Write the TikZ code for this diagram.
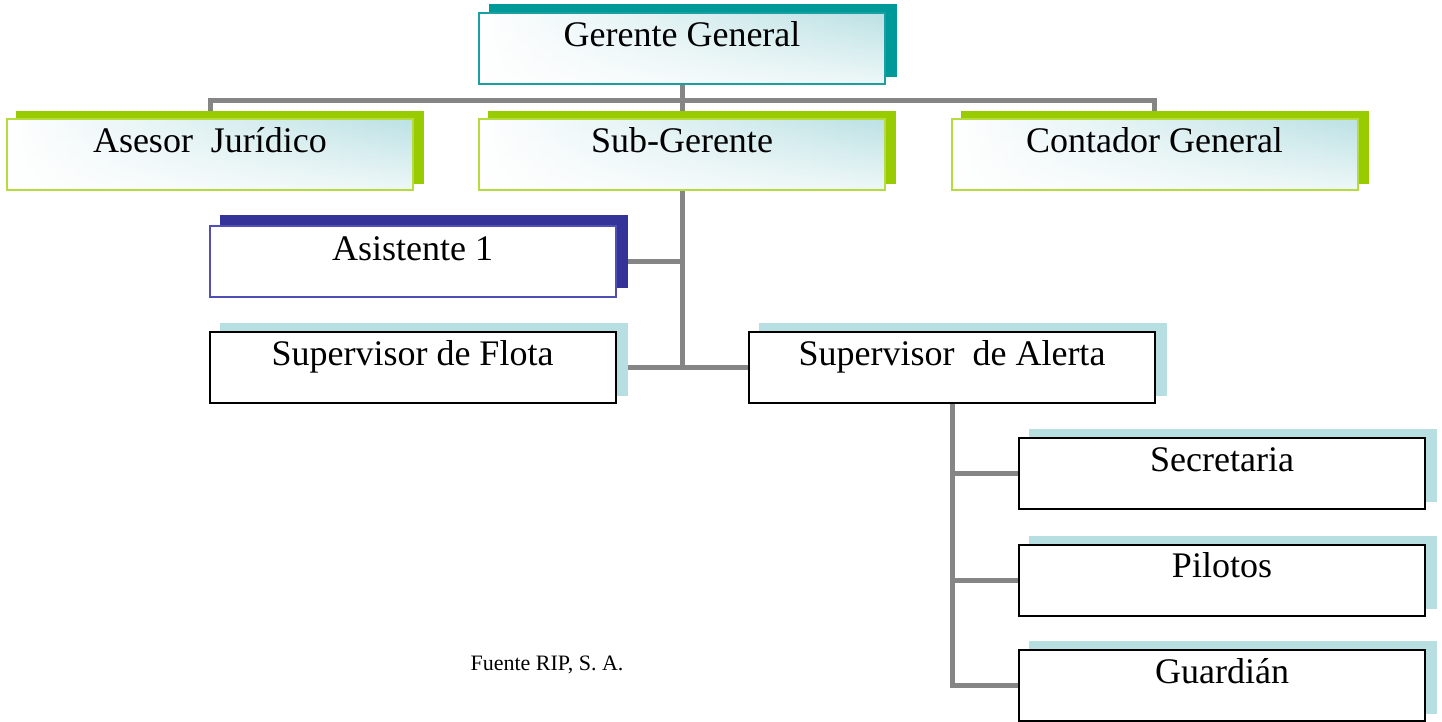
\documentclass[tikz,border=0pt]{standalone}
\usepackage{fontspec}
\setmainfont{Liberation Serif}
\usetikzlibrary{calc,fadings}
\definecolor{conn}{HTML}{858585}
\definecolor{tealS}{HTML}{009999}
\definecolor{greenS}{HTML}{99CC00}
\definecolor{blueS}{HTML}{333399}
\definecolor{lblueS}{HTML}{B7DFE2}
\definecolor{tealB}{HTML}{1AA0A0}
\definecolor{greenB}{HTML}{B4DC3C}
\definecolor{blueB}{HTML}{5050B4}
\definecolor{gradC}{HTML}{BBE1E4}
\pgfdeclarelayer{lines}
\pgfdeclarelayer{shadow}
\pgfsetlayers{lines,shadow,main}
\tikzset{
  box/.style={rectangle, minimum width=406pt, minimum height=71pt, inner sep=0pt, line width=2pt},
  gradbox/.style={box, fill=white, path picture={
      \shade[left color=white, right color=gradC] (path picture bounding box.south west) rectangle (path picture bounding box.north east);
      \fill[white, path fading=north, fill opacity=0.75] (path picture bounding box.south west) rectangle (path picture bounding box.north east);}},
  topbox/.style={gradbox, draw=tealB},
  greenbox/.style={gradbox, draw=greenB},
  bluebox/.style={box, fill=white, draw=blueB},
  plainbox/.style={box, fill=white, draw=black},
  lbl/.style={font=\fontsize{36}{40}\selectfont, anchor=base, inner sep=0pt},
  note/.style={font=\fontsize{22}{26}\selectfont, anchor=base, inner sep=0pt},
  link/.style={draw=conn, line width=5pt},
}
\newcommand{\shadowof}[3]{%
  \begin{pgfonlayer}{shadow}
    \fill[#2] ($(#1.south west)+(#3)$) rectangle ($(#1.north east)+(#3)$);
  \end{pgfonlayer}}
\begin{document}
\begin{tikzpicture}[x=1pt, y=-1pt]
\useasboundingbox (0,0) rectangle (1442,721);

% boxes
\node[topbox]   (gg)  at (682,48)    {};
\node[greenbox] (aj)  at (210,154)   {};
\node[greenbox] (sg)  at (682,154)   {};
\node[greenbox] (cg)  at (1154.5,154) {};
\node[bluebox]  (as1) at (412.5,261.5) {};
\node[plainbox] (sf)  at (412.5,367.5) {};
\node[plainbox] (sa)  at (952,367.5) {};
\node[plainbox] (sec) at (1222,473.5) {};
\node[plainbox] (pil) at (1222,580) {};
\node[plainbox] (gua) at (1222,685.5) {};

% shadows
\shadowof{gg}{tealS}{11,-8}
\shadowof{aj}{greenS}{10,-7}
\shadowof{sg}{greenS}{10,-7}
\shadowof{cg}{greenS}{10,-7}
\shadowof{as1}{blueS}{11,-10}
\shadowof{sf}{lblueS}{11,-8}
\shadowof{sa}{lblueS}{11,-8}
\shadowof{sec}{lblueS}{11,-8}
\shadowof{pil}{lblueS}{11,-8}
\shadowof{gua}{lblueS}{11,-8}

% labels
\node[lbl] (tgg)  at ($(gg.north)+(0,35)$)  {Gerente General};
\node[lbl] (taj)  at ($(aj.north)+(0,35)$)  {Asesor~~Jurídico};
\node[lbl] (tsg)  at ($(sg.north)+(0,35)$)  {Sub-Gerente};
\node[lbl] (tcg)  at ($(cg.north)+(0,35)$)  {Contador General};
\node[lbl] (tas1) at ($(as1.north)+(0,35)$) {Asistente 1};
\node[lbl] (tsf)  at ($(sf.north)+(0,34)$)  {Supervisor de Flota};
\node[lbl] (tsa)  at ($(sa.north)+(0,34)$)  {Supervisor~~de Alerta};
\node[lbl] (tsec) at ($(sec.north)+(0,34)$) {Secretaria};
\node[lbl] (tpil) at ($(pil.north)+(0,34)$) {Pilotos};
\node[lbl] (tgua) at ($(gua.north)+(0,34)$) {Guardián};
\node[note] (src) at (547,670) {Fuente RIP, S. A.};

% connectors
\begin{pgfonlayer}{lines}
\draw[link] (gg.south) -- (sg.north);
\draw[link] (aj.north) -- ++(0,-17) -| (cg.north);
\draw[link] (sg.south) |- (as1.east);
\draw[link] (sg.south) |- (sf.east);
\draw[link] (sg.south) |- (sa.west);
\draw[link] (sa.south) |- (sec.west);
\draw[link] (sa.south) |- (pil.west);
\draw[link] (sa.south) |- (gua.west);
\end{pgfonlayer}
\end{tikzpicture}
\end{document}
